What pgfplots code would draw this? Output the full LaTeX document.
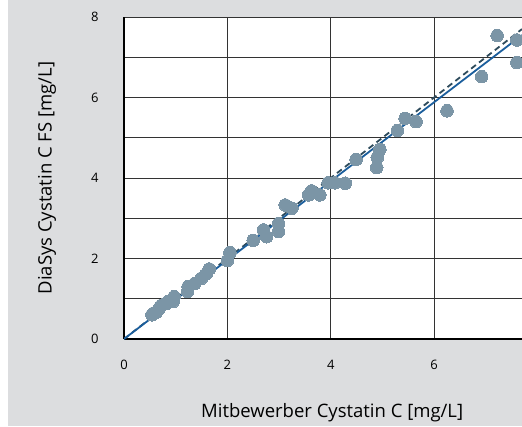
\documentclass[border=0pt]{standalone}
\usepackage{pgfplots}
\pgfplotsset{compat=1.18}
\usepackage{fontspec}
\setmainfont{Open Sans}
\definecolor{bg}{HTML}{DCDDDF}
\definecolor{pts}{HTML}{7B95A6}
\definecolor{fitblue}{HTML}{1B5E9C}
\definecolor{idline}{HTML}{2E4B5C}

\pgfplotstableread{
x y
0.54 0.60
0.57 0.64
0.62 0.66
0.66 0.72
0.70 0.80
0.73 0.84
0.83 0.89
0.85 0.93
0.95 0.93
0.97 1.05
1.23 1.18
1.24 1.30
1.37 1.38
1.50 1.51
1.60 1.63
1.65 1.74
2.00 1.95
2.05 2.15
2.50 2.45
2.70 2.71
2.76 2.54
2.99 2.87
2.99 2.67
3.12 3.33
3.25 3.25
3.57 3.58
3.63 3.68
3.79 3.58
3.95 3.88
4.08 3.88
4.28 3.87
4.49 4.46
4.89 4.26
4.90 4.51
4.95 4.71
5.29 5.18
5.44 5.48
5.65 5.40
6.25 5.67
6.92 6.52
7.22 7.54
7.60 7.43
7.60 6.87
}\pts

\begin{document}
\begin{tikzpicture}[x=1pt,y=1pt]
\useasboundingbox (0,0) rectangle (522,426);
\fill[bg] (8,0) rectangle (522,426);
\begin{axis}[
  at={(124pt,87pt)}, anchor=south west,
  scale only axis, width=398pt, height=322pt,
  xmin=0, xmax=7.7, ymin=0, ymax=8,
  axis x line*=bottom, axis y line*=left,
  axis line style={-, black, line width=1.2pt},
  axis background/.style={fill=white},
  xtick={0,2,4,6}, ytick={0,2,4,6,8}, minor ytick={1,3,5,7},
  grid=both,
  major grid style={black!80, line width=0.9pt},
  minor grid style={black!80, line width=0.9pt},
  major tick length=0pt, minor tick length=0pt,
  /pgf/number format/assume math mode=true,
  xticklabel style={font=\fontsize{13}{15}\selectfont, yshift=-18pt},
  yticklabel style={font=\fontsize{13}{15}\selectfont, xshift=-22pt},
  xlabel={Mitbewerber Cystatin C [mg/L]},
  ylabel={DiaSys Cystatin C FS [mg/L]},
  label style={font=\fontsize{18.5}{22}\selectfont},
  xlabel style={at={(axis description cs:0.523,0)}, anchor=center, yshift=-74pt},
  ylabel style={at={(axis description cs:-0.1935,0.5)}, anchor=center},
]
\addplot[idline, line width=1.8pt, dash pattern=on 6pt off 4pt] coordinates {(0,0) (7.7,7.7)};
\addplot[fitblue, line width=1.8pt] coordinates {(0,0) (7.7,7.55)};
\addplot[pts, only marks, mark=*, mark size=6.3pt, mark options={fill=pts, draw=pts, line width=0pt}] table {\pts};
\end{axis}
\end{tikzpicture}
\end{document}
